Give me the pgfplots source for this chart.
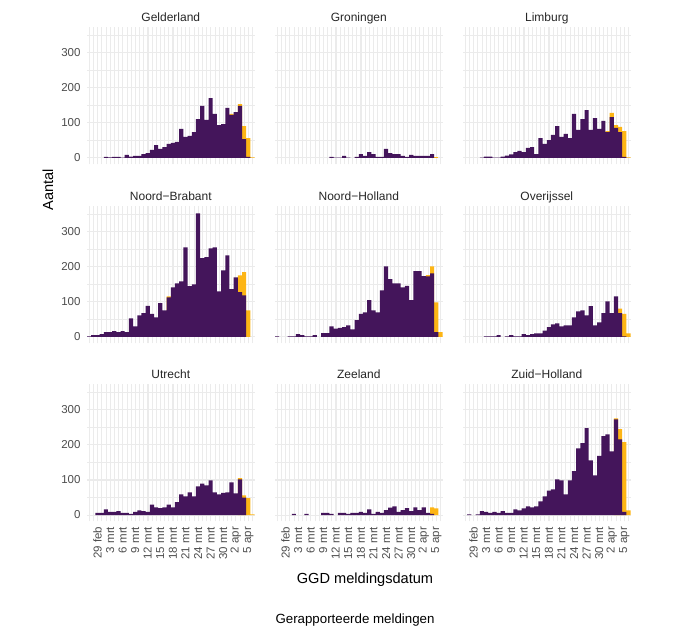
\documentclass[border=0pt]{standalone}
\usepackage{fontspec}
\setmainfont{Liberation Sans}
\usepackage{pgfplots}
\pgfplotsset{compat=1.18}
\definecolor{vpurp}{HTML}{44155B}
\definecolor{vyel}{HTML}{FDB515}
\definecolor{gridc}{HTML}{EBEBEB}
\definecolor{tickc}{HTML}{4D4D4D}
\pgfplotsset{
  panel/.style={
    scale only axis, width=167.6pt, height=137.55pt,
    xmin=-2.5, xmax=37.5, ymin=-18, ymax=375,
    axis line style={draw=none},
    major tick style={draw=none}, minor tick style={draw=none},
    xtick={0,3,...,36}, minor xtick={-2,...,37},
    ytick={0,100,200,300}, minor ytick={50,150,250,350},
    grid=both,
    major grid style={gridc, line width=1pt},
    minor grid style={gridc, line width=0.5pt},
    xticklabels={}, yticklabels={},
    title style={font=\fontsize{12}{12}\selectfont, text=black!85, at={(0.5,1)}, anchor=base, yshift=-1pt},
    tick label style={font=\fontsize{11.5}{12}\selectfont, text=tickc},
    anchor=south west,
  },
  ylab/.style={yticklabels={0,100,200,300}, yticklabel shift=3pt},
  xlab/.style={xticklabels={29 feb,3 mrt,6 mrt,9 mrt,12 mrt,15 mrt,18 mrt,21 mrt,24 mrt,27 mrt,30 mrt,2 apr,5 apr},
     xticklabel style={rotate=90, anchor=east}, xticklabel shift=2pt},
  yel/.style={ybar, bar width=1, bar shift=0pt, fill=vyel, draw=none},
  pur/.style={ybar, bar width=1, bar shift=0pt, fill=vpurp, draw=none},
}
\begin{document}
\begin{tikzpicture}
\path[use as bounding box] (0,0) rectangle (680pt,627pt);

% Row 1
\begin{axis}[panel, ylab, at={(87pt,462.7pt)}, title={Gelderland}]
\addplot[yel] coordinates {(32,126) (34,154) (35,91) (36,57) (37,2)};
\addplot[pur] coordinates {(2,3) (3,2) (4,3) (5,3) (6,1) (7,9) (8,4) (9,6) (10,6) (11,11) (12,14) (13,23) (14,37) (15,26) (16,31) (17,40) (18,43) (19,46) (20,83) (21,60) (22,63) (23,74) (24,111) (25,149) (26,109) (27,171) (28,126) (29,94) (30,97) (31,143) (32,123) (33,131) (34,149) (35,54) (36,3)};
\end{axis}

\begin{axis}[panel, at={(275pt,462.7pt)}, title={Groningen}]
\addplot[yel] coordinates {(36,3)};
\addplot[pur] coordinates {(11,3) (12,1) (13,1) (14,6) (15,1) (17,3) (18,11) (19,6) (20,17) (21,11) (22,3) (23,3) (24,26) (25,14) (26,11) (27,11) (28,6) (29,3) (30,9) (31,6) (32,6) (33,6) (34,6) (35,11)};
\end{axis}

\begin{axis}[panel, at={(463pt,462.7pt)}, title={Limburg}]
\addplot[yel] coordinates {(32,77) (33,129) (34,94) (35,89) (36,77) (37,2)};
\addplot[pur] coordinates {(2,1) (3,4) (4,4) (5,1) (6,1) (7,4) (8,7) (9,10) (10,17) (11,20) (12,17) (13,29) (14,31) (15,11) (16,57) (17,40) (18,51) (19,66) (20,91) (21,60) (22,69) (23,57) (24,126) (25,80) (26,111) (27,137) (28,80) (29,114) (30,83) (31,106) (32,74) (33,117) (34,86) (35,74) (36,3)};
\end{axis}

% Row 2
\begin{axis}[panel, ylab, at={(87pt,283.7pt)}, title={Noord−Brabant}]
\addplot[yel] coordinates {(17,116) (34,176) (35,185) (36,76)};
\addplot[pur] coordinates {(-2,2) (-1,5) (0,5) (1,8) (2,14) (3,14) (4,17) (5,14) (6,17) (7,14) (8,53) (9,30) (10,62) (11,68) (12,89) (13,66) (14,56) (15,97) (16,76) (17,113) (18,142) (19,153) (20,159) (21,256) (22,145) (23,150) (24,353) (25,225) (26,228) (27,253) (28,256) (29,130) (30,190) (31,233) (32,137) (33,170) (34,128) (35,119)};
\end{axis}

\begin{axis}[panel, at={(275pt,283.7pt)}, title={Noord−Holland}]
\addplot[yel] coordinates {(34,177) (35,202) (36,99) (37,14)};
\addplot[pur] coordinates {(-2,2) (1,2) (2,2) (3,8) (4,5) (5,2) (6,2) (7,5) (9,11) (10,11) (11,30) (12,24) (13,26) (14,28) (15,33) (16,22) (17,48) (18,66) (19,70) (20,105) (21,76) (22,70) (23,133) (24,202) (25,165) (26,153) (27,153) (28,142) (29,146) (30,105) (31,188) (32,188) (33,174) (34,173) (35,182) (36,14)};
\end{axis}

\begin{axis}[panel, at={(463pt,283.7pt)}, title={Overijssel}]
\addplot[yel] coordinates {(35,81) (36,66) (37,10)};
\addplot[pur] coordinates {(3,2) (4,2) (5,2) (6,5) (8,2) (9,5) (10,2) (11,2) (12,8) (13,5) (14,8) (15,10) (16,10) (17,18) (18,28) (19,36) (20,39) (21,30) (22,33) (23,33) (24,56) (25,73) (26,76) (27,62) (28,88) (29,33) (30,42) (31,68) (32,102) (33,68) (34,116) (35,68) (36,2)};
\end{axis}

% Row 3
\begin{axis}[panel, ylab, xlab, at={(87pt,105.7pt)}, title={Utrecht}]
\addplot[yel] coordinates {(34,105) (35,56) (36,48) (37,2)};
\addplot[pur] coordinates {(0,6) (1,6) (2,16) (3,9) (4,9) (5,11) (6,6) (7,6) (8,3) (9,9) (10,13) (11,11) (12,9) (13,30) (14,22) (15,20) (16,22) (17,30) (18,22) (19,37) (20,59) (21,53) (22,65) (23,53) (24,82) (25,90) (26,85) (27,99) (28,65) (29,59) (30,63) (31,65) (32,93) (33,62) (34,102) (35,50)};
\end{axis}

\begin{axis}[panel, xlab, at={(275pt,105.7pt)}, title={Zeeland}]
\addplot[yel] coordinates {(35,22) (36,19)};
\addplot[pur] coordinates {(2,3) (5,3) (9,6) (10,6) (11,3) (13,6) (14,6) (15,3) (16,6) (17,6) (18,9) (19,6) (20,16) (21,3) (22,9) (23,6) (24,14) (25,21) (26,25) (27,9) (28,14) (29,20) (30,11) (31,22) (32,14) (33,22) (34,6) (35,3)};
\end{axis}

\begin{axis}[panel, xlab, at={(463pt,105.7pt)}, title={Zuid−Holland}]
\addplot[yel] coordinates {(34,276) (35,245) (36,208) (37,13)};
\addplot[pur] coordinates {(-1,2) (1,2) (2,11) (3,9) (4,6) (5,9) (6,6) (7,11) (8,6) (9,6) (10,16) (11,13) (12,19) (13,25) (14,22) (15,25) (16,39) (17,53) (18,70) (19,73) (20,102) (21,99) (22,59) (23,99) (24,125) (25,190) (26,205) (27,248) (28,156) (29,113) (30,169) (31,225) (32,230) (33,182) (34,273) (35,216) (36,9)};
\end{axis}

\node[rotate=90, font=\fontsize{14.6}{15}\selectfont] at (48pt,437pt) {Aantal};
\node[font=\fontsize{14.6}{15}\selectfont] at (365pt,47pt) {GGD meldingsdatum};
\node[font=\fontsize{13.3}{14}\selectfont] at (355pt,7pt) {Gerapporteerde meldingen};
\end{tikzpicture}
\end{document}
